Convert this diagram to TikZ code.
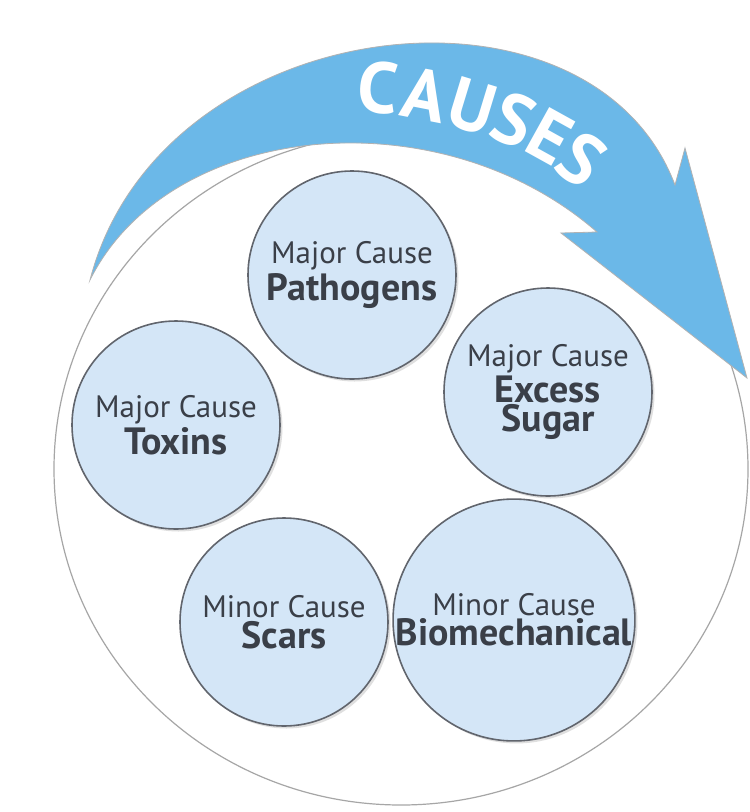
\documentclass[tikz,border=0pt]{standalone}
\usepackage{fontspec}
\setmainfont{PT Sans}
\usepackage{tikz}
\usetikzlibrary{positioning,shadows}
\definecolor{arrowblue}{HTML}{6BB8E8}
\definecolor{bubble}{HTML}{D4E6F7}
\definecolor{inktext}{HTML}{3A3F48}
\newcommand{\causekind}[1]{{\fontsize{31}{38}\selectfont #1}}
\newcommand{\causename}[1]{{\bfseries\fontsize{38}{44}\selectfont #1}}
\tikzset{
    cause/.style={circle, draw=inktext!80, line width=1.6pt, fill=bubble, minimum size=208pt,
        align=center, text=inktext, inner sep=0pt, drop shadow={opacity=0.25}},
    letter/.style={text=white, font=\bfseries\fontsize{72}{72}\selectfont}
}
\begin{document}
\begin{tikzpicture}[x=1pt,y=-1pt]
\useasboundingbox (0,0) rectangle (750,812);
% outer circle
\draw[gray!70, line width=1.2pt, fill=white] (401,469) ellipse [x radius=347, y radius=336];
% arrow
\fill[arrowblue, draw=gray!60, line width=0.8pt]
    (90,280) .. controls (160,10) and (590,-40) .. (675,185)
    -- (685,148) -- (747,378) -- (561,233) -- (597,232)
    .. controls (440,95) and (170,120) .. (90,280) -- cycle;
% title
\node[letter, rotate=-6]  (c1) at (378,88)  {C};
\node[letter, rotate=-11] (c2) at (425,95)  {A};
\node[letter, rotate=-17] (c3) at (472,106) {U};
\node[letter, rotate=-23] (c4) at (514,120) {S};
\node[letter, rotate=-29] (c5) at (550,137) {E};
\node[letter, rotate=-36] (c6) at (582,159) {S};
% causes
\node[cause] (patho) at (352,275) {\causekind{Major Cause}\\[2pt]\causename{Pathogens}};
\node[cause] (toxin) at (176,425) {\causekind{Major Cause}\\[2pt]\causename{Toxins}};
\node[cause] (sugar) at (548,392) {\causekind{Major Cause}\\[2pt]\causename{Excess}\\\causename{Sugar}};
\node[cause] (scars) at (284,622) {\causekind{Minor Cause}\\[2pt]\causename{Scars}};
\node[cause] (biome) at (514,620) {\causekind{Minor Cause}\\[2pt]\causename{Biomechanical}};
\end{tikzpicture}
\end{document}
